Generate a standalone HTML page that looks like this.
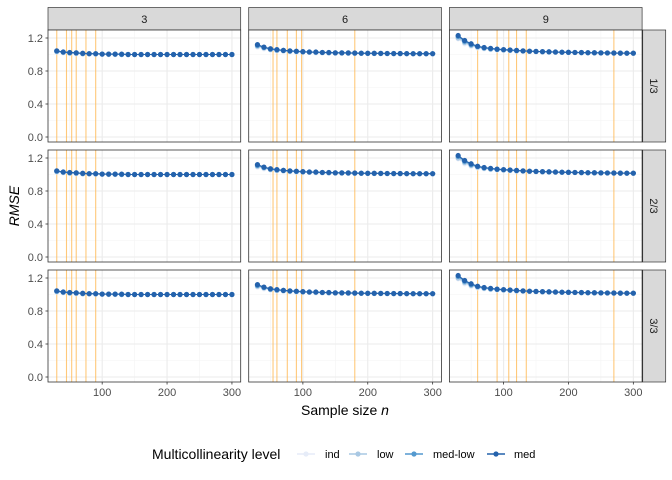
<!DOCTYPE html>
<html><head><meta charset="utf-8"><style>
body{margin:0;background:#fff}
svg{display:block;font-family:"Liberation Sans",Arial,sans-serif}
</style></head><body>
<svg id="chart" width="672" height="480" xmlns="http://www.w3.org/2000/svg"></svg>
<script>
const nValues=[30,40,50,60,70,80,90,100,110,120,130,140,150,160,170,180,190,200,210,220,230,240,250,260,270,280,290,300];
const colLabels=["3","6","9"];
const rowLabels=["1/3","2/3","3/3"];
const seriesNames=["ind","low","med-low","med"];
const seriesColors=["#e6ecf8","#a9c8e3","#5499cf","#2462ac"];
const yTicks=[0,0.4,0.8,1.2];
const xTicks=[100,200,300];
const vlines3=[30,45,53,60,75,90];
const vlines6=[54,60,76,90,98,180];
const vlines9=[60,90,108,120,135,270];
const p3ind=[1.03,1.02,1.015,1.01,1.01,1.005,1.005,1.0,1.0,1.0,1.0,1.0,1.0,1.0,1.0,1.0,1.0,1.0,1.0,1.0,1.0,1.0,1.0,1.0,1.0,1.0,1.0,1.0];
const p3low=[1.035,1.025,1.02,1.015,1.01,1.01,1.005,1.005,1.0,1.0,1.0,1.0,1.0,1.0,1.0,1.0,1.0,1.0,1.0,1.0,1.0,1.0,1.0,1.0,1.0,1.0,1.0,1.0];
const p3medlow=[1.04,1.03,1.02,1.02,1.01,1.01,1.01,1.005,1.005,1.005,1.0,1.0,1.0,1.0,1.0,1.0,1.0,1.0,1.0,1.0,1.0,1.0,1.0,1.0,1.0,1.0,1.0,1.0];
const p3med=[1.045,1.03,1.025,1.02,1.015,1.01,1.01,1.005,1.005,1.005,1.005,1.0,1.0,1.0,1.0,1.0,1.0,1.0,1.0,1.0,1.0,1.0,1.0,1.0,1.0,1.0,1.0,1.0];
const p6ind=[1.09,1.07,1.055,1.045,1.04,1.035,1.03,1.03,1.025,1.02,1.02,1.02,1.018,1.016,1.015,1.014,1.013,1.012,1.012,1.011,1.01,1.01,1.01,1.01,1.01,1.008,1.008,1.008];
const p6low=[1.10,1.08,1.06,1.05,1.045,1.04,1.035,1.03,1.03,1.025,1.022,1.02,1.02,1.018,1.016,1.015,1.014,1.013,1.012,1.012,1.011,1.01,1.01,1.01,1.01,1.01,1.009,1.009];
const p6medlow=[1.11,1.085,1.065,1.055,1.05,1.04,1.038,1.033,1.03,1.028,1.025,1.022,1.02,1.02,1.018,1.016,1.015,1.014,1.013,1.012,1.012,1.011,1.011,1.01,1.01,1.01,1.01,1.01];
const p6med=[1.12,1.09,1.07,1.06,1.05,1.045,1.04,1.035,1.03,1.03,1.025,1.025,1.02,1.02,1.02,1.018,1.016,1.015,1.015,1.014,1.013,1.012,1.012,1.011,1.01,1.01,1.01,1.01];
const p9ind=[1.19,1.13,1.10,1.08,1.07,1.06,1.055,1.05,1.045,1.04,1.038,1.035,1.032,1.03,1.028,1.026,1.025,1.023,1.022,1.021,1.02,1.019,1.018,1.017,1.016,1.016,1.015,1.015];
const p9low=[1.20,1.145,1.11,1.09,1.075,1.065,1.06,1.055,1.05,1.045,1.04,1.038,1.035,1.032,1.03,1.028,1.026,1.025,1.024,1.022,1.021,1.02,1.019,1.018,1.017,1.016,1.016,1.015];
const p9medlow=[1.22,1.16,1.12,1.095,1.08,1.07,1.062,1.057,1.052,1.047,1.043,1.04,1.037,1.034,1.032,1.03,1.028,1.026,1.025,1.023,1.022,1.021,1.02,1.019,1.018,1.017,1.016,1.016];
const p9med=[1.23,1.17,1.13,1.10,1.085,1.075,1.065,1.06,1.055,1.05,1.045,1.04,1.038,1.035,1.033,1.03,1.028,1.027,1.025,1.024,1.022,1.021,1.02,1.019,1.018,1.017,1.016,1.016];

const panelSeries=[[p3ind,p3low,p3medlow,p3med],[p6ind,p6low,p6medlow,p6med],[p9ind,p9low,p9medlow,p9med]];
const panelVlines=[vlines3,vlines6,vlines9];
const NS="http://www.w3.org/2000/svg";
const svg=document.getElementById("chart");
function mk(tag,attrs,parent){const e=document.createElementNS(NS,tag);for(const k in attrs)e.setAttribute(k,attrs[k]);(parent||svg).appendChild(e);return e;}
const colX=[48,248.7,449.4], panelW=192.7;
const rowY=[30,150,270], panelH=112;
const xMin=16.5,xMax=313.5,yMin=-0.0606,yMax=1.297;
function xs(c,v){return colX[c]+(v-xMin)/(xMax-xMin)*panelW;}
function ys(r,v){return rowY[r]+panelH-(v-yMin)/(yMax-yMin)*panelH;}

// column strips
for(let c=0;c<3;c++){
  const g=mk("g",{});
  
  
  mk("rect",{x:colX[c],y:7.5,width:panelW,height:22.5,fill:"#d9d9d9",stroke:"#333",'stroke-width':0.7},g);
  const t=mk("text",{x:colX[c]+panelW/2,y:23,'text-anchor':'middle','font-size':11,fill:"#1a1a1a"},g);t.textContent=colLabels[c];
}
// row strips
for(let r=0;r<3;r++){
  const g=mk("g",{});
  
  
  mk("rect",{x:642.7,y:rowY[r],width:23,height:panelH,fill:"#d9d9d9",stroke:"#333",'stroke-width':0.7},g);
  const cx=654.2,cy=rowY[r]+panelH/2;
  const t=mk("text",{x:cx,y:cy+4,'text-anchor':'middle','font-size':11,fill:"#1a1a1a",transform:`rotate(90 ${cx} ${cy})`},g);t.textContent=rowLabels[r];
}
for(let r=0;r<3;r++){for(let c=0;c<3;c++){
  const g=mk("g",{});
  
  
  mk("rect",{x:colX[c],y:rowY[r],width:panelW,height:panelH,fill:"#fff"},g);
  [0.2,0.6,1.0].forEach(v=>mk("line",{x1:colX[c],x2:colX[c]+panelW,y1:ys(r,v),y2:ys(r,v),stroke:"#f4f4f4",'stroke-width':0.6},g));
  [50,150,250].forEach(v=>mk("line",{x1:xs(c,v),x2:xs(c,v),y1:rowY[r],y2:rowY[r]+panelH,stroke:"#f4f4f4",'stroke-width':0.6},g));
  yTicks.forEach(v=>mk("line",{x1:colX[c],x2:colX[c]+panelW,y1:ys(r,v),y2:ys(r,v),stroke:"#ebebeb",'stroke-width':1.1},g));
  xTicks.forEach(v=>mk("line",{x1:xs(c,v),x2:xs(c,v),y1:rowY[r],y2:rowY[r]+panelH,stroke:"#ebebeb",'stroke-width':1.1},g));
  panelVlines[c].forEach(v=>{const l=mk("line",{x1:xs(c,v),x2:xs(c,v),y1:rowY[r],y2:rowY[r]+panelH,stroke:"#ffb74d",'stroke-opacity':0.75,'stroke-width':1.1},g);
    
    });
  panelSeries[c].forEach((vals,s)=>{
    const sg=mk("g",{},g);
    
    
    mk("polyline",{points:vals.map((v,i)=>xs(c,nValues[i])+","+ys(r,v)).join(" "),fill:"none",stroke:seriesColors[s],'stroke-width':1.1},sg);
    vals.forEach((v,i)=>{const p=mk("circle",{cx:xs(c,nValues[i]),cy:ys(r,v),r:2.6,fill:seriesColors[s]},sg);
      
      });
  });
  mk("rect",{x:colX[c],y:rowY[r],width:panelW,height:panelH,fill:"none",stroke:"#333",'stroke-width':0.8},g);
  if(c===0){yTicks.forEach(v=>{mk("line",{x1:45.5,x2:48,y1:ys(r,v),y2:ys(r,v),stroke:"#333",'stroke-width':0.8});
    const t=mk("text",{x:43,y:ys(r,v)+4,'text-anchor':'end','font-size':11,fill:"#4d4d4d"});t.textContent=v.toFixed(1);
    
    });}
  if(r===2){xTicks.forEach(v=>{mk("line",{x1:xs(c,v),x2:xs(c,v),y1:382,y2:384.5,stroke:"#333",'stroke-width':0.8});
    const t=mk("text",{x:xs(c,v),y:396,'text-anchor':'middle','font-size':11,fill:"#4d4d4d"});t.textContent=v;
    
    });}
}}
</script>
<svg style="position:absolute;left:0;top:0" width="672" height="480" xmlns="http://www.w3.org/2000/svg" font-family="Liberation Sans, Arial, sans-serif">
<text x="19" y="206" transform="rotate(-90 19 206)" text-anchor="middle" font-size="14" font-style="italic" fill="#000">RMSE</text>
<text x="345" y="415" text-anchor="middle" font-size="14" fill="#000">Sample size <tspan font-style="italic">n</tspan></text>
<g>
<text x="152" y="459" font-size="14" fill="#000">Multicollinearity level</text>
<g><line x1="297" x2="315" y1="454" y2="454" stroke="#e6ecf8" stroke-width="1.5"/><circle cx="306" cy="454" r="2.6" fill="#e6ecf8"/><text x="325" y="458" font-size="11">ind</text></g>
<g><line x1="349" x2="367" y1="454" y2="454" stroke="#a9c8e3" stroke-width="1.5"/><circle cx="358" cy="454" r="2.6" fill="#a9c8e3"/><text x="377" y="458" font-size="11">low</text></g>
<g><line x1="405" x2="423" y1="454" y2="454" stroke="#5499cf" stroke-width="1.5"/><circle cx="414" cy="454" r="2.6" fill="#5499cf"/><text x="433" y="458" font-size="11">med-low</text></g>
<g><line x1="487" x2="505" y1="454" y2="454" stroke="#2462ac" stroke-width="1.5"/><circle cx="496" cy="454" r="2.6" fill="#2462ac"/><text x="514" y="458" font-size="11">med</text></g>
</g>
</svg>
</body></html>
